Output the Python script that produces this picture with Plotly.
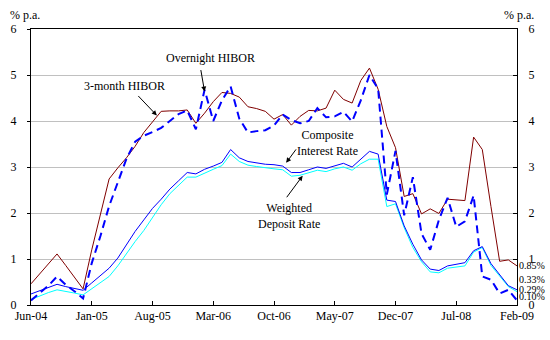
import pandas as pd
import plotly.graph_objects as go

# Monthly observations, Jun-04 to Feb-09
months = list(pd.date_range("2004-06-01", "2009-02-01", freq="MS").strftime("%b-%y"))

hibor_3m = [0.46, 0.68, 0.90, 1.11, 0.86, 0.60, 0.35, 1.20, 1.95, 2.74,
            2.98, 3.20, 3.45, 3.75, 3.98, 4.21, 4.22, 4.22, 4.24, 3.95,
            4.17, 4.42, 4.62, 4.60, 4.52, 4.31, 4.27, 4.21, 4.04, 4.14,
            3.91, 4.10, 4.23, 4.22, 4.28, 4.67, 4.47, 4.39, 4.88, 5.15,
            4.69, 3.88, 3.42, 2.36, 2.42, 1.98, 2.09, 1.99, 2.30, 2.29,
            2.27, 3.65, 3.38, 2.14, 0.95, 0.98, 0.85]

hibor_overnight = [0.10, 0.27, 0.42, 0.62, 0.44, 0.30, 0.14, 0.91, 1.50, 2.15,
                   2.65, 3.18, 3.55, 3.68, 3.76, 3.85, 4.00, 4.15, 4.23, 3.82,
                   4.68, 4.00, 4.45, 4.75, 4.05, 3.75, 3.78, 3.80, 3.90, 4.14,
                   4.02, 3.95, 4.00, 4.28, 4.08, 4.10, 4.20, 3.99, 4.45, 5.00,
                   4.70, 2.40, 3.35, 1.95, 2.78, 1.55, 1.20, 1.85, 2.33, 1.70,
                   1.82, 2.38, 0.62, 0.55, 0.25, 0.33, 0.10]

composite_rate = [0.24, 0.31, 0.38, 0.45, 0.40, 0.36, 0.32, 0.48, 0.63, 0.80,
                  1.02, 1.30, 1.60, 1.85, 2.10, 2.30, 2.52, 2.70, 2.88, 2.85,
                  2.95, 3.02, 3.10, 3.38, 3.20, 3.12, 3.09, 3.06, 3.05, 3.02,
                  2.88, 2.88, 2.94, 3.00, 2.97, 3.03, 3.08, 3.00, 3.16, 3.34,
                  3.28, 2.28, 2.25, 1.72, 1.32, 0.98, 0.78, 0.75, 0.85, 0.88,
                  0.92, 1.18, 1.27, 0.90, 0.65, 0.42, 0.33]

deposit_rate = [0.12, 0.20, 0.27, 0.33, 0.30, 0.26, 0.22, 0.35, 0.48, 0.62,
                0.85, 1.12, 1.38, 1.62, 1.90, 2.18, 2.42, 2.60, 2.78, 2.78,
                2.87, 2.95, 3.03, 3.28, 3.12, 3.04, 3.01, 2.98, 2.96, 2.94,
                2.80, 2.82, 2.88, 2.93, 2.90, 2.96, 3.00, 2.93, 3.07, 3.17,
                3.17, 2.14, 2.20, 1.68, 1.25, 0.94, 0.72, 0.70, 0.80, 0.83,
                0.85, 1.15, 1.25, 0.86, 0.62, 0.40, 0.29]

tick_months = months[::7]
y_ticks = [0, 1, 2, 3, 4, 5, 6]

FONT = "Liberation Serif"

fig = go.Figure()
fig.add_trace(go.Scatter(x=months, y=hibor_3m, mode="lines", name="3-month HIBOR",
                         line=dict(color="#800000", width=1)))
fig.add_trace(go.Scatter(x=months, y=deposit_rate, mode="lines", name="Weighted Deposit Rate",
                         line=dict(color="#00FFFF", width=1)))
fig.add_trace(go.Scatter(x=months, y=composite_rate, mode="lines", name="Composite Interest Rate",
                         line=dict(color="#0000FF", width=1)))
fig.add_trace(go.Scatter(x=months, y=hibor_overnight, mode="lines", name="Overnight HIBOR",
                         line=dict(color="#0000FF", width=2, dash="8px,5px")))
# carrier for the right-hand value axis
fig.add_trace(go.Scatter(x=months, y=hibor_3m, mode="lines", yaxis="y2",
                         line=dict(width=0), opacity=0, hoverinfo="skip", showlegend=False))

annotations = []


def label(text, x, y, **kw):
    annotations.append(dict(text=text, x=x, y=y, xref="x", yref="y", showarrow=False,
                            font=dict(family=FONT, size=12, color="black"),
                            xanchor="center", yanchor="middle", **kw))


def pointer(x, y, ax, ay):
    annotations.append(dict(text="", x=x, y=y, xref="x", yref="y", ax=ax, ay=ay,
                            showarrow=True, arrowhead=2, arrowsize=1, arrowwidth=1,
                            arrowcolor="black"))


label("Overnight HIBOR", 20.73, 5.376)
pointer(20.0, 4.64, -4, -23)
label("3-month HIBOR", 10.81, 4.77)
pointer(14.5, 4.12, -20, -21)
label("Composite<br>Interest Rate", 34.2, 3.52)
pointer(29.4, 3.09, 11, -15)
label("Weighted<br>Deposit Rate", 29.7, 1.935)
pointer(31.3, 2.81, -17, 23)

# end-of-period values beside the right axis
for value, shift in [(hibor_3m[-1], 0), (composite_rate[-1], 10),
                     (deposit_rate[-1], 2), (hibor_overnight[-1], 4)]:
    annotations.append(dict(text=f"{value:.2f}%", x=1, y=value, xref="paper", yref="y",
                            xanchor="left", yanchor="middle", xshift=0, yshift=shift,
                            showarrow=False,
                            font=dict(family=FONT, size=10, color="black")))

for xpos, anchor in [(0.0, "right"), (1.0, "left")]:
    annotations.append(dict(text="% p.a.", x=xpos, y=1, xref="paper", yref="paper",
                            xanchor="center", yanchor="middle",
                            xshift=(-6.5 if xpos == 0 else 1.5), yshift=14,
                            showarrow=False,
                            font=dict(family=FONT, size=12, color="black")))

fig.update_layout(
    width=550, height=340,
    margin=dict(l=31, r=33, t=29, b=35),
    paper_bgcolor="white", plot_bgcolor="white",
    showlegend=False,
    font=dict(family=FONT, size=12, color="black"),
    xaxis=dict(type="category", range=[0, 56], tickmode="array",
               tickvals=tick_months, ticktext=tick_months,
               showline=True, linecolor="black", linewidth=1, mirror=True,
               ticks="inside", ticklen=4, tickcolor="black",
               showgrid=False, zeroline=False,
               tickfont=dict(family=FONT, size=12, color="black")),
    yaxis=dict(range=[0, 6], tickmode="array", tickvals=y_ticks,
               showline=True, linecolor="black", linewidth=1,
               ticks="outside", ticklen=3, tickcolor="black",
               showgrid=True, gridcolor="#C0C0C0", gridwidth=1, zeroline=False,
               ticklabelstandoff=8,
               tickfont=dict(family=FONT, size=12, color="black")),
    yaxis2=dict(range=[0, 6], tickmode="array", tickvals=y_ticks,
                overlaying="y", side="right",
                showline=True, linecolor="black", linewidth=1,
                ticks="inside", ticklen=4, tickcolor="black",
                showgrid=False, zeroline=False, ticklabelstandoff=8,
                tickfont=dict(family=FONT, size=12, color="black")),
    annotations=annotations,
)

fig.write_html("out.html")
